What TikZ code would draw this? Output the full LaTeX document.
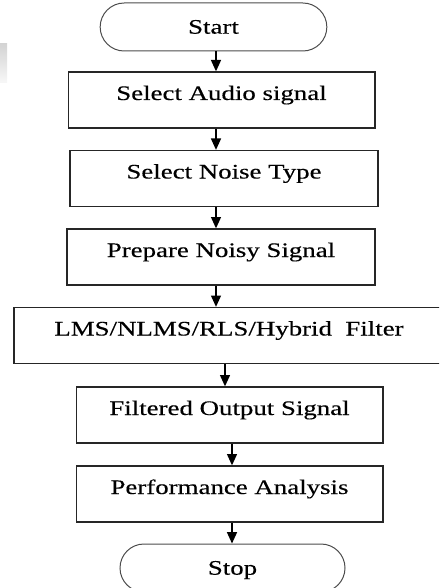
\documentclass[tikz,border=0pt]{standalone}
\usepackage{fontspec}
\setmainfont{Liberation Serif}[FakeStretch=1.3, FakeBold=0.3]
\usetikzlibrary{positioning,shapes.misc,arrows.meta}

\begin{document}
\begin{tikzpicture}[x=0.75pt, y=-0.75pt,
  box/.style={rectangle, draw=black!85, line width=1pt, minimum height=42pt, inner sep=0pt, text height=12pt, text depth=12pt, font=\fontsize{15.5}{18}\selectfont},
  term/.style={rounded rectangle, draw=black!70, line width=0.75pt, minimum width=170pt, minimum height=36pt, inner sep=0pt, text height=10pt, text depth=0pt, font=\fontsize{15.5}{18}\selectfont},
  arr/.style={line width=1pt, -{Triangle[width=7.5pt,length=8.5pt]}}]
\useasboundingbox (0,0) rectangle (439,588);
\clip (0,0) rectangle (439,588);
\fill[top color=black!17, bottom color=black!3, draw=none] (0,44) rectangle (7,83);

\node[term] (start) at (213.5,27) {Start};
\node[box, minimum width=230pt] (audio) at (221.5,100) {Select Audio signal};
\node[box, minimum width=231pt] (noise) at (224,178.5) {Select Noise Type};
\node[box, minimum width=231pt] (noisy) at (221,257) {Prepare Noisy Signal};
\node[box, minimum width=322.5pt] (filter) at (229,335.5) {LMS/NLMS/RLS/Hybrid\ \ Filter};
\node[box, minimum width=230pt] (output) at (229.5,415) {Filtered Output Signal};
\node[box, minimum width=230pt] (perf) at (229.5,494) {Performance Analysis};
\node[term, minimum width=168.75pt] (stop) at (232.5,568) {Stop};

% arrow columns
\coordinate (c1) at (216,0);
\coordinate (c2) at (225,0);
\coordinate (c3) at (232,0);
\draw[arr] (start.south -| c1) -- (audio.north -| c1);
\draw[arr] (audio.south -| c1) -- (noise.north -| c1);
\draw[arr] (noise.south -| c1) -- (noisy.north -| c1);
\draw[arr] (noisy.south -| c1) -- (filter.north -| c1);
\draw[arr] (filter.south -| c2) -- (output.north -| c2);
\draw[arr] (output.south -| c3) -- (perf.north -| c3);
\draw[arr] (perf.south -| c3) -- (stop.north -| c3);
\end{tikzpicture}
\end{document}
